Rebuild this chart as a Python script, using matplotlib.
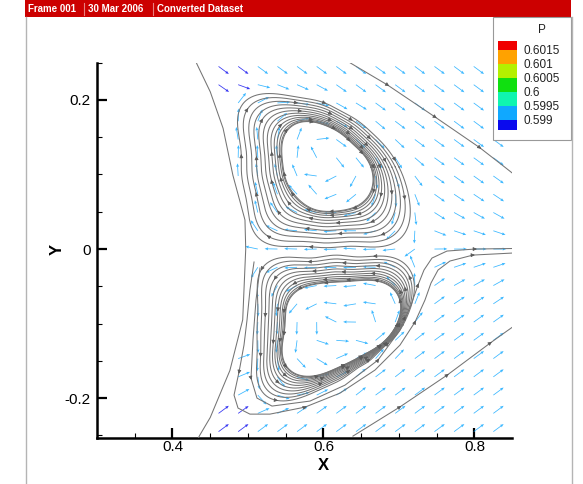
import numpy as np
import matplotlib
matplotlib.use("Agg")
import matplotlib.pyplot as plt
from matplotlib.patches import Rectangle
from matplotlib.lines import Line2D

plt.rcParams['font.family'] = ['Liberation Sans', 'DejaVu Sans']

# ------------------------------------------------------------------ data
header_parts = ['Frame 001', '30 Mar 2006', 'Converted Dataset']
x_ticks = [0.4, 0.6, 0.8]
x_tick_labels = ['0.4', '0.6', '0.8']
y_ticks = [-0.2, 0.0, 0.2]
y_tick_labels = ['-0.2', '0', '0.2']
x_label = 'X'
y_label = 'Y'
legend_title = 'P'
legend_levels = ['0.6015', '0.601', '0.6005', '0.6', '0.5995', '0.599']
legend_bounds = [0.599, 0.5995, 0.6, 0.6005, 0.601, 0.6015]
legend_colors = ['#f00000', '#ffa200', '#b4f000', '#10e010', '#10f5b0', '#10a8ff', '#0a0aee']

# left edge of the data domain
boundary_x = [0.430, 0.432, 0.450, 0.467, 0.480, 0.496, 0.497, 0.493, 0.476, 0.450, 0.436, 0.433]
boundary_y = [0.256, 0.249, 0.211, 0.162, 0.099, 0.039, 0.000, -0.095, -0.163, -0.226, -0.250, -0.256]

# open streamtraces
top_right_x = [0.635, 0.685, 0.748, 0.807, 0.840, 0.850]
top_right_y = [0.250, 0.220, 0.177, 0.136, 0.110, 0.102]
bottom_right_x = [0.639, 0.701, 0.764, 0.821, 0.843, 0.850]
bottom_right_y = [-0.251, -0.212, -0.169, -0.126, -0.110, -0.105]
wrap_outer_x = [0.508, 0.5026, 0.4987, 0.4947, 0.4881, 0.4815, 0.4868, 0.5026, 0.5291, 0.5755,
                0.6219, 0.6682, 0.7013, 0.7212, 0.7344, 0.7424, 0.7517, 0.7675, 0.7980, 0.850]
wrap_outer_y = [-0.0174, -0.0550, -0.0953, -0.1289, -0.1651, -0.1960, -0.2134, -0.2215, -0.2215, -0.2121,
                -0.1933, -0.1624, -0.1289, -0.0980, -0.0685, -0.0456, -0.0282, -0.0161, -0.0081, -0.0054]
wrap_inner_x = [0.5159, 0.5106, 0.5066, 0.5040, 0.5119, 0.5318, 0.5821, 0.6285, 0.6722, 0.7013,
                0.7159, 0.7252, 0.7331, 0.7437, 0.7636, 0.8007, 0.850]
wrap_inner_y = [-0.0255, -0.0685, -0.1221, -0.1732, -0.2000, -0.2107, -0.2040, -0.1826, -0.1490, -0.1087,
                -0.0752, -0.0483, -0.0282, -0.0121, -0.0027, 0.0000, 0.0007]

# upper vortex (clockwise): centre, innermost and outermost closed streamtrace
upper_centre = (0.605, 0.110)
upper_inner_x = [0.549, 0.569, 0.595, 0.622, 0.648, 0.664, 0.666, 0.658, 0.631, 0.605, 0.578, 0.556, 0.546, 0.545]
upper_inner_y = [0.160, 0.170, 0.170, 0.156, 0.133, 0.110, 0.089, 0.066, 0.052, 0.050, 0.056, 0.079, 0.106, 0.133]
upper_outer_x = [0.4934, 0.5132, 0.5556, 0.5887, 0.6139, 0.6404, 0.6669, 0.6881, 0.7040, 0.7132, 0.7146,
                 0.7066, 0.6815, 0.6351, 0.5689, 0.5291, 0.5119, 0.5026, 0.4960, 0.4907, 0.4881, 0.4881]
upper_outer_y = [0.2027, 0.2067, 0.2067, 0.2000, 0.1906, 0.1758, 0.1544, 0.1302, 0.1034, 0.0725, 0.0389,
                 0.0148, 0.0040, 0.0027, 0.0027, 0.0054, 0.0148, 0.0362, 0.0725, 0.1128, 0.1597, 0.1866]
upper_loops = 13

# lower vortex (counter-clockwise)
lower_centre = (0.622, -0.102)
lower_inner_x = [0.5689, 0.6126, 0.6576, 0.6974, 0.7013, 0.6974, 0.6788, 0.6483, 0.6126, 0.5821, 0.5556,
                 0.5464, 0.5464, 0.5517, 0.5603]
lower_inner_y = [-0.0510, -0.0443, -0.0416, -0.0510, -0.0779, -0.1047, -0.1262, -0.1450, -0.1624, -0.1718,
                 -0.1664, -0.1450, -0.1128, -0.0779, -0.0591]
lower_outer_x = [0.5185, 0.5556, 0.6086, 0.6616, 0.7013, 0.7159, 0.7199, 0.7172, 0.7079, 0.6907, 0.6616,
                 0.6285, 0.5887, 0.5490, 0.5250, 0.5140, 0.5120, 0.5120, 0.5130, 0.5150]
lower_outer_y = [-0.0174, -0.0121, -0.0094, -0.0094, -0.0134, -0.0255, -0.0483, -0.0752, -0.0993, -0.1221,
                 -0.1490, -0.1718, -0.1933, -0.2040, -0.2000, -0.1880, -0.1624, -0.1087, -0.0617, -0.0309]
lower_loops = 12

# background stream and pressure model
bg_u = 0.40
bg_v = 0.30
bg_width = 0.05
p_base = 0.59925
p_low = 0.5985
low_x = [0.440, 0.445]
low_y = [0.255, -0.258]
low_radius = 0.057

# ------------------------------------------------------------------ helpers
NT = 720
thg = np.linspace(0, 2 * np.pi, NT, endpoint=False)


def ray_radius(c, px, py, keep=10):
    P = np.column_stack([px, py])
    Q = np.roll(P, -1, axis=0)
    A = P - np.array(c)
    E = Q - P
    d0, d1 = np.cos(thg)[:, None], np.sin(thg)[:, None]
    den = d0 * E[None, :, 1] - d1 * E[None, :, 0]
    den = np.where(np.abs(den) < 1e-12, 1e-12, den)
    r = (A[None, :, 0] * E[None, :, 1] - A[None, :, 1] * E[None, :, 0]) / den
    s = (A[None, :, 0] * d1 - A[None, :, 1] * d0) / den
    ok = (s >= -1e-9) & (s <= 1 + 1e-9) & (r > 0)
    r = np.where(ok, r, np.inf).min(axis=1)
    R = np.fft.rfft(r)
    R[keep + 1:] = 0
    return np.fft.irfft(R, n=NT)


def make_vortex(c, ix, iy, ox, oy, sense, n):
    return dict(c=c, rin=ray_radius(c, ix, iy, 6), rout=ray_radius(c, ox, oy, 9), sense=sense, n=n)


def radii(v, X, Y):
    th = np.mod(np.arctan2(Y - v['c'][1], X - v['c'][0]), 2 * np.pi)
    rin = np.interp(th, thg, v['rin'], period=2 * np.pi)
    rout = np.interp(th, thg, v['rout'], period=2 * np.pi)
    r = np.hypot(X - v['c'][0], Y - v['c'][1])
    return r, rin, rout


def tfun(v, X, Y):
    r, rin, rout = radii(v, X, Y)
    return (r - rin) / (rout - rin)


vortices = [
    make_vortex(upper_centre, upper_inner_x, upper_inner_y, upper_outer_x, upper_outer_y, -1, upper_loops),
    make_vortex(lower_centre, lower_inner_x, lower_inner_y, lower_outer_x, lower_outer_y, 1, lower_loops),
]

# ------------------------------------------------------------------ figure
W, H = 583, 484
fig = plt.figure(figsize=(W / 100, H / 100), dpi=100)


def fx(p):
    return p / W


def fy(p):
    return 1 - p / H


ax = fig.add_axes([fx(97), fy(437.6), fx(512) - fx(97), fy(62.7) - fy(437.6)])
ax.set_xlim(0.30, 0.8497)
ax.set_ylim(-0.253, 0.250)

line_col = '#747474'
arrow_col = '#5a5a5a'


def head(x0, y0, dx, dy):
    n = np.hypot(dx, dy)
    if n == 0:
        return
    ax.annotate('', xy=(x0 + 0.0025 * dx / n, y0 + 0.0025 * dy / n), xytext=(x0, y0),
                arrowprops=dict(arrowstyle='-|>', color=arrow_col, lw=0.5, mutation_scale=5.5,
                                shrinkA=0, shrinkB=0), zorder=4)


# vector field
ys = 0.0245 * np.arange(-10, 11)
xs = np.arange(0.305, 0.85, 0.026)
GX, GY = np.meshgrid(xs, ys)
GX, GY = GX.ravel(), GY.ravel()
bx = np.interp(GY, boundary_y[::-1], boundary_x[::-1])
m = GX > bx + 0.006
GX, GY = GX[m], GY[m]

bu = np.full_like(GX, bg_u)
bv = -bg_v * np.tanh(GY / bg_width)
bn = np.hypot(bu, bv)
U = np.zeros_like(GX)
V = np.zeros_like(GX)
wsum = np.zeros_like(GX)
h = 1e-4
for v in vortices:
    tx = (tfun(v, GX + h, GY) - tfun(v, GX - h, GY)) / (2 * h)
    ty = (tfun(v, GX, GY + h) - tfun(v, GX, GY - h)) / (2 * h)
    s = v['sense']
    u, w = -s * ty, s * tx
    nn = np.hypot(u, w) + 1e-12
    r, rin, rout = radii(v, GX, GY)
    dist = np.maximum(r - rout, 0)
    wt = np.exp(-(dist / 0.022) ** 2)
    U += wt * u / nn
    V += wt * w / nn
    wsum += wt
wb = np.clip(1 - wsum, 0, 1)
U += wb * bu / bn
V += wb * bv / bn
nn = np.hypot(U, V) + 1e-12
L = 0.017
U, V = L * U / nn, L * V / nn

P = np.full_like(GX, p_base)
for cx, cy in zip(low_x, low_y):
    P -= (p_base - p_low) * np.exp(-((GX - cx) ** 2 + (GY - cy) ** 2) / low_radius ** 2)
cidx = np.digitize(P, legend_bounds)  # 0 -> below 0.599
bin_colors = legend_colors[::-1]
cols = [bin_colors[i] for i in cidx]
ax.quiver(GX, GY, U, V, color=cols, angles='xy', scale_units='xy', scale=1,
          width=0.0019, headwidth=3.8, headlength=4.5, headaxislength=4.0, zorder=2, alpha=0.82)

# closed streamtraces
for v in vortices:
    n = v['n']
    ts = np.linspace(0, 1, n) ** 1.6
    for k, t in enumerate(ts):
        r = v['rin'] + t * (v['rout'] - v['rin'])
        lx = v['c'][0] + r * np.cos(thg)
        ly = v['c'][1] + r * np.sin(thg)
        ax.plot(np.append(lx, lx[0]), np.append(ly, ly[0]), color=line_col, lw=0.75, zorder=3)
        for base in (0.4, 1.9, 3.3, 4.8):
            a = np.mod(base + 0.5 * k, 2 * np.pi)
            j = int(a / (2 * np.pi) * NT) % NT
            jn = (j + v['sense'] * 3) % NT
            head(lx[j], ly[j], lx[jn] - lx[j], ly[jn] - ly[j])

# open streamtraces
open_lines = [
    (boundary_x, boundary_y, []),
    (top_right_x, top_right_y, [1, 2, 3]),
    (bottom_right_x, bottom_right_y, [1, 2, 3]),
    (wrap_outer_x, wrap_outer_y, [4, 9, 13, 18]),
    (wrap_inner_x, wrap_inner_y, [3, 8, 11, 15]),
]
for lx, ly, arr in open_lines:
    ax.plot(lx, ly, color=line_col, lw=0.75, zorder=3)
    for i in arr:
        head(lx[i], ly[i], lx[i + 1] - lx[i], ly[i + 1] - ly[i])

# axes styling
for sp in ('top', 'right'):
    ax.spines[sp].set_visible(False)
for sp in ('left', 'bottom'):
    ax.spines[sp].set_linewidth(1.8)
ax.set_xticks(x_ticks)
ax.set_xticklabels(x_tick_labels)
ax.set_yticks(y_ticks)
ax.set_yticklabels(y_tick_labels)
ax.set_xticks(np.arange(0.35, 0.85, 0.05), minor=True)
ax.set_yticks(np.arange(-0.25, 0.26, 0.05), minor=True)
ax.tick_params(which='major', direction='in', length=7, width=1.6, labelsize=11, colors='black')
ax.tick_params(which='minor', direction='in', length=3.5, width=0.8)
ax.tick_params(axis='x', which='major', pad=1.5)
ax.tick_params(axis='y', which='major', pad=4.5)
ax.set_xlabel(x_label, fontsize=12, fontweight='bold', va='center')
ax.xaxis.set_label_coords((323 - 97) / 415, (437.6 - 465) / 374.9)
ax.set_ylabel(y_label, fontsize=12, fontweight='bold', va='center')
ax.yaxis.set_label_coords((57 - 97) / 415, (437.6 - 249) / 374.9)

# frame and header
fig.add_artist(Line2D([fx(25.5), fx(25.5)], [fy(17), 0], color='#b4b4b4', lw=1))
fig.add_artist(Line2D([fx(572), fx(572)], [fy(17), 0], color='#b4b4b4', lw=1))
fig.add_artist(Rectangle((fx(25), fy(17)), fx(571) - fx(25), 17 / H, transform=fig.transFigure,
                         facecolor='#cc0000', edgecolor='none'))
hx = [28, 88, 157]
for txt, xp in zip(header_parts, hx):
    fig.text(fx(xp), fy(9), txt, color='white', fontsize=7, fontweight='bold', va='center', ha='left')
for xp in (83.5, 152.5):
    fig.add_artist(Line2D([fx(xp), fx(xp)], [fy(3), fy(15)], color='#e88080', lw=0.8))

# legend
fig.add_artist(Rectangle((fx(493), fy(140)), fx(571) - fx(493), 123 / H, transform=fig.transFigure,
                         facecolor='white', edgecolor='#999999', lw=0.8))
fig.text(fx(541.5), fy(30), legend_title, fontsize=8.5, ha='center', va='center', color='#222222')
edges = [41, 50, 64, 78, 92, 106, 120, 130]
for i, col in enumerate(legend_colors):
    fig.add_artist(Rectangle((fx(498), fy(edges[i + 1])), fx(517) - fx(498), (edges[i + 1] - edges[i]) / H,
                             transform=fig.transFigure, facecolor=col, edgecolor='none'))
for i, lab in enumerate(legend_levels):
    fig.text(fx(523), fy(edges[i + 1] + 1.5), lab, fontsize=8.5, ha='left', va='center', color='#222222')

fig.savefig('out.png', dpi=100)
